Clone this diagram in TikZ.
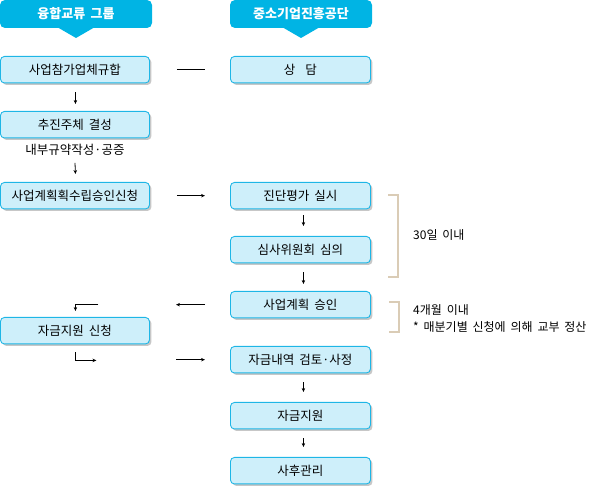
\documentclass[tikz,border=0pt]{standalone}
\usepackage{fontspec}
\newfontfamily\kr[WordSpace=1.8]{Noto Sans CJK KR}
\usetikzlibrary{shadows,calc,arrows.meta}
\definecolor{hdr}{RGB}{0,180,228}
\definecolor{bfill}{RGB}{206,239,250}
\definecolor{bdraw}{RGB}{30,182,230}
\definecolor{brk}{RGB}{218,204,182}
\begin{document}
\begin{tikzpicture}[x=1pt,y=-1pt,
 box/.style={draw=bdraw, fill=bfill, line width=0.9pt, rounded corners=4pt,
   minimum height=26.5pt, inner sep=0pt, anchor=north west,
   font=\kr\fontsize{12.5}{14}\selectfont,
   drop shadow={shadow xshift=2pt, shadow yshift=-2pt, fill=black!22, opacity=1}},
 lbox/.style={box, minimum width=149pt},
 rbox/.style={box, minimum width=140pt},
 arr/.style={-{Stealth[length=4pt,width=3.5pt]}, line width=0.8pt},
 plain/.style={line width=0.8pt},
 hdrtext/.style={text=white, font=\kr\bfseries\fontsize{13}{15}\selectfont},
 note/.style={font=\kr\fontsize{12}{14}\selectfont, inner sep=0pt},
 bracket/.style={draw=brk, line width=1.8pt}
]
\useasboundingbox (0,0) rectangle (595,486);

% headers
\fill[hdr, rounded corners=5pt] (0,0) rectangle (152,28);
\fill[hdr] (57,27) -- (95,27) -- (76,38) -- cycle;
\node[hdrtext] (h1) at (76,14) {융합교류 그룹};
\fill[hdr, rounded corners=5pt] (230,0) rectangle (372,28);
\fill[hdr] (282,27) -- (320,27) -- (301,38) -- cycle;
\node[hdrtext] (h2) at (301,14) {중소기업진흥공단};

% boxes
\node[lbox] (b1) at (0,56) {사업참가업체규합};
\node[rbox] (r1) at (230,56) {상\hspace{0.8em}담};
\node[lbox] (b2) at (0,111) {추진주체 결성};
\node[note, font=\kr\fontsize{12.5}{14}\selectfont] (n1) at (75,150) {내부규약작성·공증};
\node[lbox] (b3) at (0,182) {사업계획획수립승인신청};
\node[rbox] (r2) at (230,182) {진단평가 실시};
\node[rbox] (r3) at (230,236) {심사위원회 심의};
\node[rbox] (r4) at (230,291) {사업계획 승인};
\node[lbox] (b4) at (0,317) {자금지원 신청};
\node[rbox] (r5) at (230,346) {자금내역 검토·사정};
\node[rbox] (r6) at (230,402) {자금지원};
\node[rbox] (r7) at (230,457) {사후관리};

% connectors
\draw[plain] ($(b1.east)+(27,0)$) -- ($(r1.west)+(-25,0)$);
\draw[arr] ($(b1.south)+(0.5,9)$) -- ($(b2.north)+(0.5,-7)$);
\draw[arr] ($(n1.south)+(0,7)$) -- ($(b3.north)+(0.5,-8)$);
\draw[arr] ($(b3.east)+(27,0)$) -- ($(r2.west)+(-25,0)$);
\draw[arr] ($(r2.south)+(3,6)$) -- ($(r3.north)+(3,-10)$);
\draw[arr] ($(r3.south)+(3,9)$) -- ($(r4.north)+(3,-7)$);
\draw[arr] ($(r4.west)+(-25,0)$) -- ($(r4.west)+(-54,0)$);
\coordinate (c1) at ($(b4.north)+(0.5,-13)$);
\draw[arr] ($(c1)+(23,0)$) -- (c1) -- ($(b4.north)+(0.5,-6)$);
\coordinate (c2) at ($(b4.south)+(0.5,16)$);
\draw[arr] ($(b4.south)+(0.5,8)$) -- (c2) -- ($(c2)+(21,0)$);
\draw[arr] ($(r5.west)+(-54,0)$) -- ($(r5.west)+(-25,0)$);
\draw[arr] ($(r5.south)+(3,9)$) -- ($(r6.north)+(3,-10)$);
\draw[arr] ($(r6.south)+(3,9)$) -- ($(r7.north)+(3,-10)$);

% brackets and notes
\draw[bracket] (388,195) -- (398,195) -- (398,277) -- (388,277);
\node[note, anchor=west] (t1) at (413,235) {30일 이내};
\draw[bracket] (389,302) -- (399,302) -- (399,332) -- (389,332);
\node[note, anchor=west] (t2) at (413,310) {4개월 이내};
\node[note, anchor=west] (t3) at (413,327) {* 매분기별 신청에 의해 교부 정산};
\end{tikzpicture}
\end{document}
